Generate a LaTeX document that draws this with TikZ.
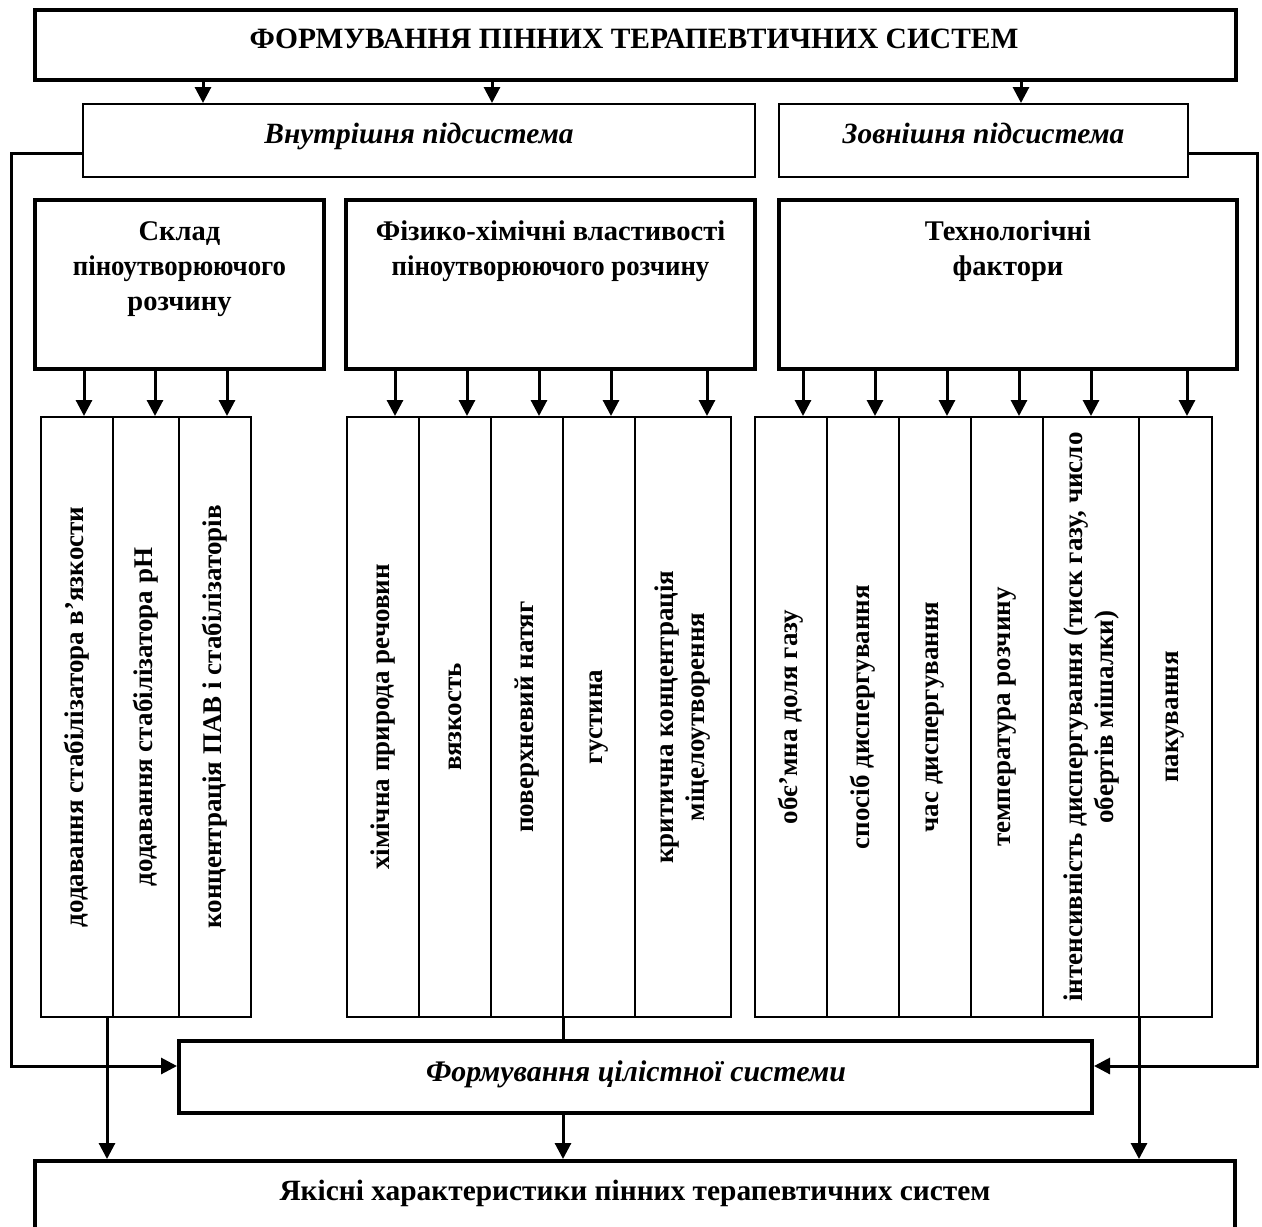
\documentclass[tikz,border=0pt]{standalone}
\usepackage{fontspec}
\setmainfont{Liberation Serif}
\usetikzlibrary{arrows.meta}
\begin{document}
\begin{tikzpicture}[x=1pt,y=-1pt,
  thickbox/.style={draw,line width=4pt,inner sep=0pt},
  thinbox/.style={draw,line width=2pt,inner sep=0pt},
  conn/.style={line width=3pt},
  arr/.style={conn,-{Triangle[length=16pt,width=16pt]}},
  titletxt/.style={anchor=base,inner sep=0pt,font=\fontsize{29.5}{34}\selectfont\bfseries},
  cattxt/.style={anchor=base,inner sep=0pt,font=\fontsize{28.5}{35}\selectfont\bfseries},
  subtxt/.style={anchor=base,inner sep=0pt,font=\fontsize{29.4}{34}\selectfont\bfseries\itshape},
  coltxt/.style={rotate=90,align=center,inner sep=0pt,font=\fontsize{27}{31}\selectfont\bfseries},
]
\useasboundingbox (0,0) rectangle (1262,1227);
% main boxes
\node[thickbox,minimum width=1201pt,minimum height=70pt] (top) at (635.5,45) {};
\node[titletxt] (toptext) at (634,48) {ФОРМУВАННЯ ПІННИХ ТЕРАПЕВТИЧНИХ СИСТЕМ};
\node[thinbox,minimum width=672pt,minimum height=73pt] (inner) at (419,140.5) {};
\node[subtxt] (innertext) at (419,143) {Внутрішня підсистема};
\node[thinbox,minimum width=409pt,minimum height=73pt] (outer) at (983.5,140.5) {};
\node[subtxt] (outertext) at (983.5,143) {Зовнішня підсистема};
% category boxes
\node[thickbox,minimum width=289pt,minimum height=169pt] (cat1) at (179.5,284.5) {};
\node[cattxt] (cat1a) at (179.5,240) {Склад};
\node[cattxt] (cat1b) at (179.5,275.5) {\addfontfeatures{FakeStretch=0.94}піноутворюючого};
\node[cattxt] (cat1c) at (179.5,310) {розчину};
\node[thickbox,minimum width=409pt,minimum height=169pt] (cat2) at (550.5,284.5) {};
\node[cattxt] (cat2a) at (550.5,240) {Фізико-хімічні властивості};
\node[cattxt] (cat2b) at (550.5,275.5) {\addfontfeatures{FakeStretch=0.94}піноутворюючого розчину};
\node[thickbox,minimum width=458pt,minimum height=169pt] (cat3) at (1008,284.5) {};
\node[cattxt] (cat3a) at (1008,240) {Технологічні};
\node[cattxt] (cat3b) at (1008,275.5) {фактори};
% columns
\node[thinbox,minimum width=72pt,minimum height=600pt] (c11) at (77,717) {};
\node[thinbox,minimum width=66pt,minimum height=600pt] (c12) at (146,717) {};
\node[thinbox,minimum width=72pt,minimum height=600pt] (c13) at (215,717) {};
\node[coltxt] (t11) at (c11) {додавання стабілізатора в'язкости};
\node[coltxt] (t12) at (c12) {додавання стабілізатора pH};
\node[coltxt] (t13) at (c13) {концентрація ПАВ і стабілізаторів};
\node[thinbox,minimum width=72pt,minimum height=600pt] (c21) at (383,717) {};
\node[thinbox,minimum width=72pt,minimum height=600pt] (c22) at (455,717) {};
\node[thinbox,minimum width=72pt,minimum height=600pt] (c23) at (527,717) {};
\node[thinbox,minimum width=72pt,minimum height=600pt] (c24) at (599,717) {};
\node[thinbox,minimum width=96pt,minimum height=600pt] (c25) at (683,717) {};
\node[coltxt] (t21) at (c21) {хімічна природа речовин};
\node[coltxt] (t22) at (c22) {вязкость};
\node[coltxt] (t23) at (c23) {поверхневий натяг};
\node[coltxt] (t24) at (c24) {густина};
\node[coltxt] (t25) at (c25) {критична концентрація\\міцелоутворення};
\node[thinbox,minimum width=72pt,minimum height=600pt] (c31) at (791,717) {};
\node[thinbox,minimum width=72pt,minimum height=600pt] (c32) at (863,717) {};
\node[thinbox,minimum width=72pt,minimum height=600pt] (c33) at (935,717) {};
\node[thinbox,minimum width=72pt,minimum height=600pt] (c34) at (1007,717) {};
\node[thinbox,minimum width=96pt,minimum height=600pt] (c35) at (1091,717) {};
\node[thinbox,minimum width=73pt,minimum height=600pt] (c36) at (1175.5,717) {};
\node[coltxt] (t31) at (c31) {обє'мна доля газу};
\node[coltxt] (t32) at (c32) {спосіб диспергування};
\node[coltxt] (t33) at (c33) {час диспергування};
\node[coltxt] (t34) at (c34) {температура розчину};
\node[coltxt] (t35) at (c35) {інтенсивність диспергування (тиск газу, число\\обертів мішалки)};
\node[coltxt] (t36) at (c36) {пакування};
% lower boxes
\node[thickbox,minimum width=913pt,minimum height=72pt] (form) at (635.5,1077) {};
\node[subtxt,font=\fontsize{29.9}{34}\selectfont\bfseries\itshape] (formtext) at (636,1081.5) {Формування цілістної системи};
\node[thickbox,minimum width=1200pt,minimum height=139pt] (bottom) at (635,1230.5) {};
\node[titletxt,font=\fontsize{29.4}{34}\selectfont\bfseries] (bottomtext) at (635,1200) {Якісні характеристики пінних терапевтичних систем};
% top arrows
\coordinate (ta1) at (203,0);
\coordinate (ta2) at (492,0);
\coordinate (ta3) at (1021,0);
\draw[arr] (top.south -| ta1) -- (inner.north -| ta1);
\draw[arr] (top.south -| ta2) -- (inner.north -| ta2);
\draw[arr] (top.south -| ta3) -- (outer.north -| ta3);
% category -> column arrows
\foreach \cat/\col/\x in {cat1/c11/84,cat1/c12/155,cat1/c13/227,
  cat2/c21/395,cat2/c22/467,cat2/c23/539,cat2/c24/611,cat2/c25/707,
  cat3/c31/803,cat3/c32/875,cat3/c33/947,cat3/c34/1019,cat3/c35/1091,cat3/c36/1187}{
  \coordinate (ax) at (\x,0);
  \draw[arr] (\cat.south -| ax) -- (\col.north -| ax);
}
% feedback lines
\coordinate (fl1) at (11,153);
\coordinate (fl2) at (11,1066);
\draw[arr] (inner.west |- fl1) -- (fl1) -- (fl2) -- (form.west |- fl2);
\coordinate (fr1) at (1257,153);
\coordinate (fr2) at (1257,1066);
\draw[arr] (outer.east |- fr1) -- (fr1) -- (fr2) -- (form.east |- fr2);
% lower connectors
\coordinate (la) at (107,0);
\coordinate (ma) at (563,0);
\coordinate (ra) at (1139,0);
\draw[arr] (c11.south -| la) -- (bottom.north -| la);
\draw[conn] (c23.south -| ma) -- (form.north -| ma);
\draw[arr] (form.south -| ma) -- (bottom.north -| ma);
\draw[arr] (c35.south -| ra) -- (bottom.north -| ra);
\end{tikzpicture}
\end{document}
